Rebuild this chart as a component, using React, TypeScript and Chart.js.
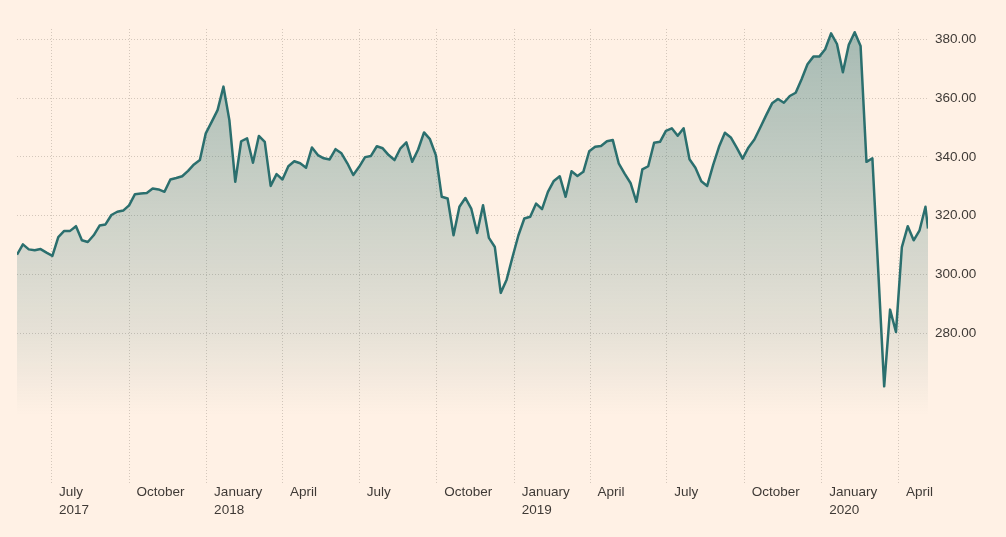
import { useEffect, useRef } from "react"
import { Chart, registerables } from "chart.js"

Chart.register(...registerables)

// weekly closes, first week dated below; the final value is a part-week reading
const firstWeek = "2017-05-21"
const latestDate = "2020-05-06"

const weeklyCloses = [
  306.7, 310.2, 308.5, 308.2, 308.6, 307.4, 306.3, 312.7, 314.8, 314.8,
  316.4, 311.6, 311.0, 313.3, 316.6, 317.0, 320.2, 321.3, 321.7, 323.5,
  327.3, 327.5, 327.7, 329.2, 328.9, 328.1, 332.3, 332.8, 333.4, 335.2,
  337.4, 338.9, 348.0, 351.9, 355.9, 363.9, 352.5, 331.5, 345.3, 346.3,
  338.0, 347.1, 345.1, 330.1, 334.1, 332.3, 336.8, 338.5, 337.8, 336.3,
  343.2, 340.6, 339.5, 339.1, 342.6, 341.2, 337.8, 333.8, 336.6, 339.9,
  340.3, 343.6, 342.9, 340.6, 338.9, 342.9, 344.9, 338.3, 342.5, 348.3,
  346.0, 340.6, 326.4, 325.8, 313.3, 323.0, 326.0, 322.4, 314.1, 323.5,
  312.4, 309.3, 293.7, 298.2, 305.9, 313.3, 319.0, 319.6, 324.1, 322.2,
  328.1, 331.8, 333.4, 326.4, 335.1, 333.5, 334.9, 341.9, 343.4, 343.7,
  345.3, 345.7, 337.8, 334.3, 331.1, 324.7, 335.7, 336.8, 344.8, 345.1,
  348.8, 349.7, 347.2, 349.7, 339.2, 336.3, 331.7, 330.1, 337.2, 343.4,
  348.2, 346.6, 343.1, 339.4, 343.2, 345.9, 350.0, 354.2, 358.2, 359.7,
  358.4, 360.7, 361.8, 366.4, 371.5, 374.1, 374.1, 376.6, 382.0, 378.4,
  368.8, 378.1, 382.4, 377.7, 338.3, 339.5, 301.0, 261.9, 288.0, 280.4,
  309.3, 316.4, 311.6, 315.0, 323.0,
]
const latestClose = 315.6

const quarterStarts = [
  "2017-07-01", "2017-10-01", "2018-01-01", "2018-04-01",
  "2018-07-01", "2018-10-01", "2019-01-01", "2019-04-01",
  "2019-07-01", "2019-10-01", "2020-01-01", "2020-04-01",
]
const quarterLabels = [
  ["July", "2017"], ["October"], ["January", "2018"], ["April"],
  ["July"], ["October"], ["January", "2019"], ["April"],
  ["July"], ["October"], ["January", "2020"], ["April"],
]
const yTicks = [280, 300, 320, 340, 360, 380]

const DAY = 86400000
const dayIndex = (d: string) => (Date.parse(d) - Date.parse(firstWeek)) / DAY

export default function App() {
  const chartRef = useRef<HTMLCanvasElement>(null)
  const chartInstance = useRef<Chart | null>(null)

  useEffect(() => {
    document.body.style.margin = "0"
    document.body.style.background = "#fff1e5"
    if (!chartRef.current) return
    if (chartInstance.current) chartInstance.current.destroy()
    const ctx = chartRef.current.getContext("2d")
    if (!ctx) return

    const points = weeklyCloses.map((v, i) => ({ x: i * 7, y: v }))
    points.push({ x: dayIndex(latestDate), y: latestClose })

    const gridColor = "rgba(60, 50, 40, 0.22)"
    const textColor = "#3f3a36"
    const font = { family: "'Liberation Sans', Arial, sans-serif", size: 13.5 }

    chartInstance.current = new Chart(ctx, {
      type: "line",
      data: {
        datasets: [
          {
            data: points,
            borderColor: "#2b6f6e",
            borderWidth: 2.5,
            borderJoinStyle: "round",
            pointRadius: 0,
            tension: 0,
            fill: "start",
            backgroundColor: (c: any) => {
              const area = c.chart.chartArea
              if (!area) return "transparent"
              const g = c.chart.ctx.createLinearGradient(0, area.top, 0, area.bottom)
              g.addColorStop(0, "rgba(43, 111, 110, 0.42)")
              g.addColorStop(0.66, "rgba(43, 111, 110, 0.12)")
              g.addColorStop(0.85, "rgba(43, 111, 110, 0)")
              return g
            },
          },
        ],
      },
      options: {
        responsive: true,
        maintainAspectRatio: false,
        animation: false,
        layout: { padding: { top: 29, left: 17, right: 0, bottom: 0 } },
        plugins: { legend: { display: false }, tooltip: { enabled: false } },
        scales: {
          x: {
            type: "linear",
            min: 0,
            max: dayIndex(latestDate),
            afterBuildTicks: (scale: any) => {
              scale.ticks = quarterStarts.map((d) => ({ value: dayIndex(d) }))
            },
            afterFit: (scale: any) => {
              scale.height = 54
            },
            ticks: {
              autoSkip: false,
              maxRotation: 0,
              align: "start",
              padding: 0,
              color: textColor,
              font: { ...font, lineHeight: 1.37 },
              callback: (_v: any, i: number) => quarterLabels[i].map((s) => "  " + s),
            },
            grid: { color: gridColor, drawTicks: false, lineWidth: 1 },
            border: { display: false, dash: [1, 2] },
          },
          y: {
            position: "right",
            min: 229,
            max: 383.5,
            afterBuildTicks: (scale: any) => {
              scale.ticks = yTicks.map((v) => ({ value: v }))
            },
            afterFit: (scale: any) => {
              scale.width = 78
            },
            ticks: {
              padding: 7,
              color: textColor,
              font,
              callback: (v: any) => Number(v).toFixed(2),
            },
            grid: { color: gridColor, drawTicks: false, lineWidth: 1 },
            border: { display: false, dash: [1, 2] },
          },
        },
      },
    })

    return () => {
      if (chartInstance.current) {
        chartInstance.current.destroy()
        chartInstance.current = null
      }
    }
  }, [])

  return (
    <div style={{ width: 1006, height: 537, background: "#fff1e5" }}>
      <canvas ref={chartRef} />
    </div>
  )
}
